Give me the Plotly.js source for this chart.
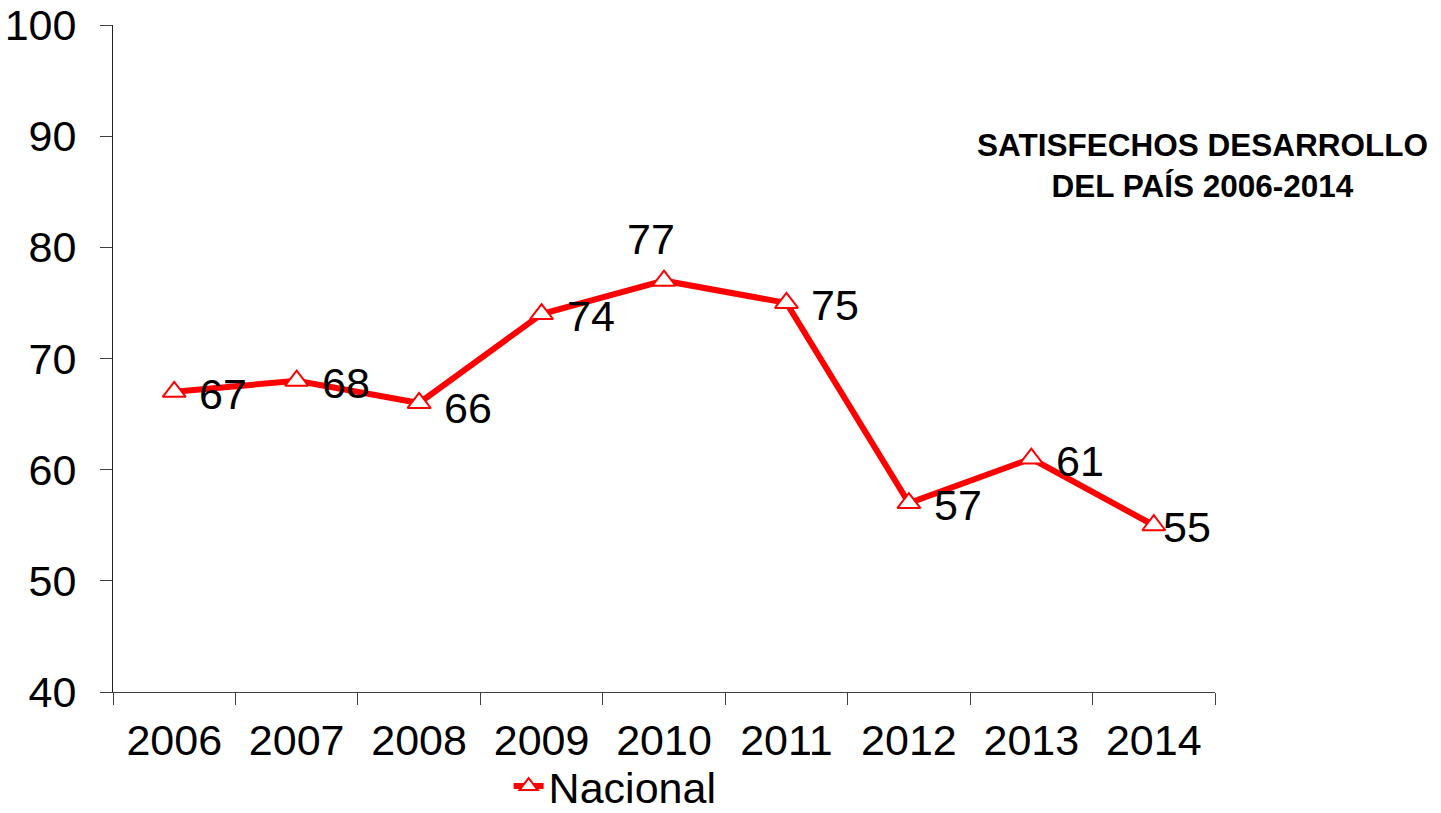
<!DOCTYPE html>
<html>
<head>
<meta charset="utf-8">
<script src="https://cdn.plot.ly/plotly-3.0.1.min.js"></script>
<style>html,body{margin:0;padding:0;background:#fff;}#chart{width:1441px;height:813px;}</style>
</head>
<body>
<div id="chart"></div>
<script>
const years = ['2006','2007','2008','2009','2010','2011','2012','2013','2014'];
const nacional = [67, 68, 66, 74, 77, 75, 57, 61, 55];
const seriesName = 'Nacional';
const yTicks = [40, 50, 60, 70, 80, 90, 100];
const chartTitle = 'SATISFECHOS DESARROLLO<br>DEL PAÍS 2006-2014';

const FONT = 'Liberation Sans, Arial, sans-serif';
const FS = 43;

const annotations = years.map((yr, i) => {
  const base = {x: i, y: nacional[i], text: String(nacional[i]), showarrow: false,
    font: {family: FONT, size: FS, color: '#000'}, xanchor: 'left', yanchor: 'middle', xshift: 23, yshift: -2};
  if (yr === '2010') { Object.assign(base, {xanchor: 'center', yanchor: 'bottom', xshift: -13, yshift: 16}); }
  if (yr === '2008') { base.yshift = -5; }
  if (yr === '2014') { base.xshift = 7; }
  return base;
});
annotations.push({xref: 'paper', yref: 'paper', x: 0.989, y: 0.789, xanchor: 'center', yanchor: 'middle',
  text: chartTitle, showarrow: false, align: 'center',
  font: {family: FONT, size: 31.5, color: '#000', weight: 'bold'}});

const trace = {
  x: years, y: nacional, name: seriesName, type: 'scatter', mode: 'lines+markers',
  line: {color: '#ff0000', width: 6},
  marker: {symbol: 'triangle-up', size: 20, color: '#ffffff', line: {width: 2, color: '#ff0000'}},
  cliponaxis: false
};

const layout = {
  width: 1441, height: 813,
  margin: {l: 113, r: 226, t: 25, b: 121},
  paper_bgcolor: '#fff', plot_bgcolor: '#fff',
  font: {family: FONT, size: FS, color: '#000'},
  showlegend: true,
  legend: {orientation: 'h', x: 0.359, xref: 'paper', y: 0.033, yref: 'container', xanchor: 'left', yanchor: 'middle',
    font: {family: FONT, size: FS, color: '#000'}, bgcolor: 'rgba(0,0,0,0)'},
  xaxis: {type: 'category', range: [-0.5, 8.5], tickson: 'boundaries', ticks: 'outside', ticklen: 12,
    tickcolor: '#404040', showline: true, linecolor: '#404040', linewidth: 1, showgrid: false,
    zeroline: false, tickfont: {family: FONT, size: FS, color: '#000'}, ticklabelstandoff: 10},
  yaxis: {range: [40, 100], tickvals: yTicks, ticks: 'outside', ticklen: 12, tickcolor: '#404040',
    showline: true, linecolor: '#202020', linewidth: 1, showgrid: false, zeroline: false,
    tickfont: {family: FONT, size: FS, color: '#000'}, ticklabelstandoff: 15},
  annotations: annotations
};

Plotly.newPlot('chart', [trace], layout, {displayModeBar: false, staticPlot: true});
</script>
</body>
</html>
